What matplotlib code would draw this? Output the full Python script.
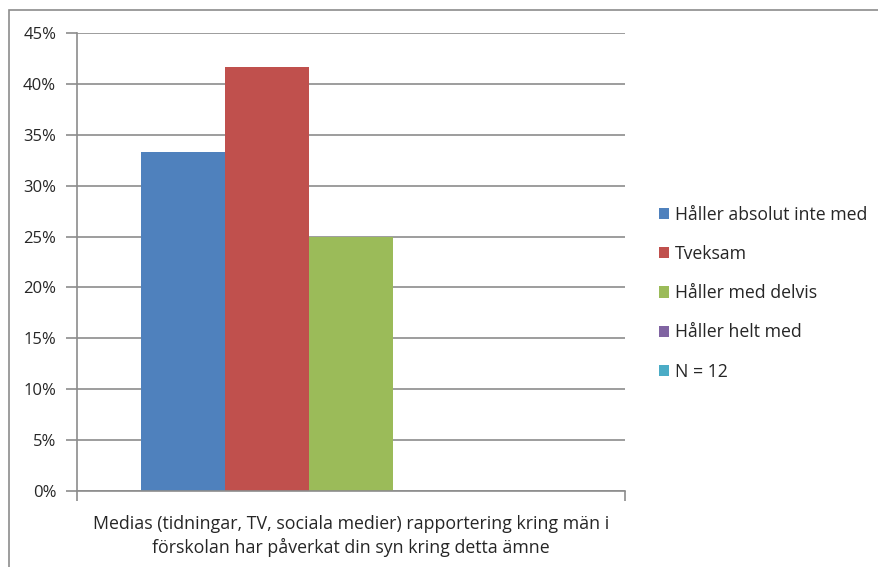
import matplotlib
matplotlib.use("Agg")
import matplotlib.pyplot as plt
from matplotlib.patches import Rectangle
from matplotlib.ticker import FuncFormatter

plt.rcParams['font.family'] = ['Open Sans', 'DejaVu Sans']

category = "Medias (tidningar, TV, sociala medier) rapportering kring män i\nförskolan har påverkat din syn kring detta ämne"
series = ["Håller absolut inte med", "Tveksam", "Håller med delvis", "Håller helt med", "N = 12"]
values = [33.33, 41.67, 25.0, 0.0, 0.0]
colors = ["#4F81BD", "#C0504D", "#9BBB59", "#8064A2", "#4BACC6"]
yticks = [0, 5, 10, 15, 20, 25, 30, 35, 40, 45]

W, H = 879, 567
fig = plt.figure(figsize=(W / 100, H / 100), dpi=100)
fig.patches.append(Rectangle((9 / W, -0.1), 2.0, 1 - 10 / H + 0.1, transform=fig.transFigure,
                             fill=False, edgecolor="#8c8c8c", linewidth=1.2))

ax = fig.add_axes([77 / W, 1 - 491 / H, (625 - 77) / W, (491 - 33) / H])
gap = 64 / 548
bw = (1 - 2 * gap) / len(series)
handles = []
for i, (s, v, c) in enumerate(zip(series, values, colors)):
    h = ax.bar(gap + bw * i, v, width=bw, align="edge", color=c, label=s)
    handles.append(h)

ax.set_xlim(0, 1)
ax.set_ylim(0, 45)
ax.set_yticks(yticks)
ax.yaxis.set_major_formatter(FuncFormatter(lambda v, p: f"{int(v)}%"))
ax.grid(axis="y", color="#8c8c8c", linewidth=1.2)
ax.set_axisbelow(True)
for sp in ["top", "right"]:
    ax.spines[sp].set_visible(False)
for sp in ["left", "bottom"]:
    ax.spines[sp].set_color("#8c8c8c")
    ax.spines[sp].set_linewidth(1.2)
ax.tick_params(axis="y", length=8, color="#8c8c8c", width=1.2, labelsize=12, pad=7, labelcolor="#262626")
ax.set_xticks([0, 1])
ax.set_xticklabels(["", ""])
ax.tick_params(axis="x", length=7, color="#8c8c8c", width=1.2)
ax.text(0.5, -0.052, category, transform=ax.transAxes, ha="center", va="top",
        fontsize=12.8, color="#262626", linespacing=1.35)

leg = fig.legend(handles=handles, labels=series, loc="upper left",
                 bbox_to_anchor=(643 / W, 1 - 190 / H), frameon=False,
                 fontsize=12.7, handlelength=0.6, handleheight=0.6,
                 handletextpad=0.3, labelspacing=1.2, labelcolor="#262626")

fig.savefig("out.png", dpi=100)
